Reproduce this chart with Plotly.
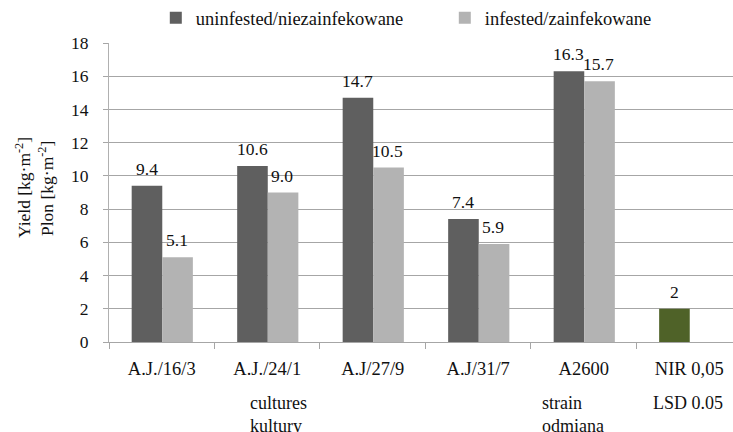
import plotly.graph_objects as go

categories = ["A.J./16/3", "A.J./24/1", "A.J/27/9", "A.J/31/7", "A2600"]
uninfested = [9.4, 10.6, 14.7, 7.4, 16.3]
infested = [5.1, 9.0, 10.5, 5.9, 15.7]
lsd_category = ["NIR 0,05"]
lsd_value = [2]
all_categories = categories + lsd_category
y_ticks = [0, 2, 4, 6, 8, 10, 12, 14, 16, 18]

FONT = "Liberation Serif, Times New Roman, serif"
TXT = "#111111"
DARK = "#5f5f5f"
LIGHT = "#b3b3b3"
GREEN = "#4f6228"
BW = 0.29

fig = go.Figure()
fig.add_trace(go.Bar(name="uninfested/niezainfekowane", x=categories, y=uninfested,
                     marker=dict(color=DARK, line=dict(width=0)), width=BW, offset=-0.285))
fig.add_trace(go.Bar(name="infested/zainfekowane", x=categories, y=infested,
                     marker=dict(color=LIGHT, line=dict(width=0)), width=BW, offset=0.005))
fig.add_trace(go.Bar(name="NIR", x=lsd_category, y=lsd_value, showlegend=False,
                     marker=dict(color=GREEN, line=dict(width=0)), width=BW, offset=-0.285))

ann = []
def lab(cats, vals, xs, fmt):
    for c, v in zip(cats, vals):
        ann.append(dict(x=c, y=v, xref="x", yref="y", text=fmt.format(v), showarrow=False,
                        xshift=xs, yanchor="bottom", yshift=5,
                        font=dict(family=FONT, size=17.5, color=TXT)))
lab(categories, uninfested, -15, "{:.1f}")
lab(categories, infested, 15, "{:.1f}")
lab(lsd_category, lsd_value, -15, "{}")

ann.append(dict(xref="paper", yref="paper", x=-0.1378, y=0.515, xanchor="center", yanchor="middle",
                textangle=-90, showarrow=False, text="Yield [kg·m<sup>-2</sup>]",
                font=dict(family=FONT, size=17.5, color=TXT)))
ann.append(dict(xref="paper", yref="paper", x=-0.101, y=0.515, xanchor="center", yanchor="middle",
                textangle=-90, showarrow=False, text="Plon [kg·m<sup>-2</sup>]",
                font=dict(family=FONT, size=17.5, color=TXT)))
ann.append(dict(xref="paper", yref="paper", x=0.2228, y=-0.165, xanchor="left", yanchor="top",
                align="left", showarrow=False, text="cultures<br>kultury",
                font=dict(family=FONT, size=18, color=TXT)))
ann.append(dict(xref="paper", yref="paper", x=0.69, y=-0.165, xanchor="left", yanchor="top",
                align="left", showarrow=False, text="strain<br>odmiana",
                font=dict(family=FONT, size=18, color=TXT)))
ann.append(dict(xref="paper", yref="paper", x=0.928, y=-0.165, xanchor="center", yanchor="top",
                showarrow=False, text="LSD 0.05",
                font=dict(family=FONT, size=18, color=TXT)))

fig.update_layout(
    width=733, height=432, barmode="overlay",
    margin=dict(l=109, r=0, t=43, b=90, autoexpand=False),
    paper_bgcolor="white", plot_bgcolor="white",
    font=dict(family=FONT, size=17.5, color=TXT),
    annotations=ann,
    legend=dict(orientation="h", x=0.075, y=1.083, xanchor="left", yanchor="middle",
                font=dict(family=FONT, size=18.5, color=TXT), itemwidth=30, entrywidth=244,
                bgcolor="rgba(0,0,0,0)"),
    xaxis=dict(type="category", categoryorder="array", categoryarray=all_categories,
               range=[-0.5, 5.415], showline=True, linecolor="#a6a6a6", linewidth=1,
               ticks="outside", ticklen=6, tickcolor="#a6a6a6", tickson="boundaries",
               ticklabelstandoff=10, showgrid=False, automargin=False,
               tickfont=dict(family=FONT, size=18.5, color=TXT)),
    yaxis=dict(range=[0, 18], tickvals=y_ticks, showline=True, linecolor="#b0b0b0",
               linewidth=1, ticks="outside", ticklen=5, tickcolor="#a6a6a6",
               showgrid=True, gridcolor="#a6a6a6", gridwidth=1, zeroline=False,
               ticklabelstandoff=11, automargin=False,
               tickfont=dict(family=FONT, size=17.5, color=TXT)),
)
fig.write_html("out.html", post_script="document.body.style.margin='0';",
               config={"displayModeBar": False})
